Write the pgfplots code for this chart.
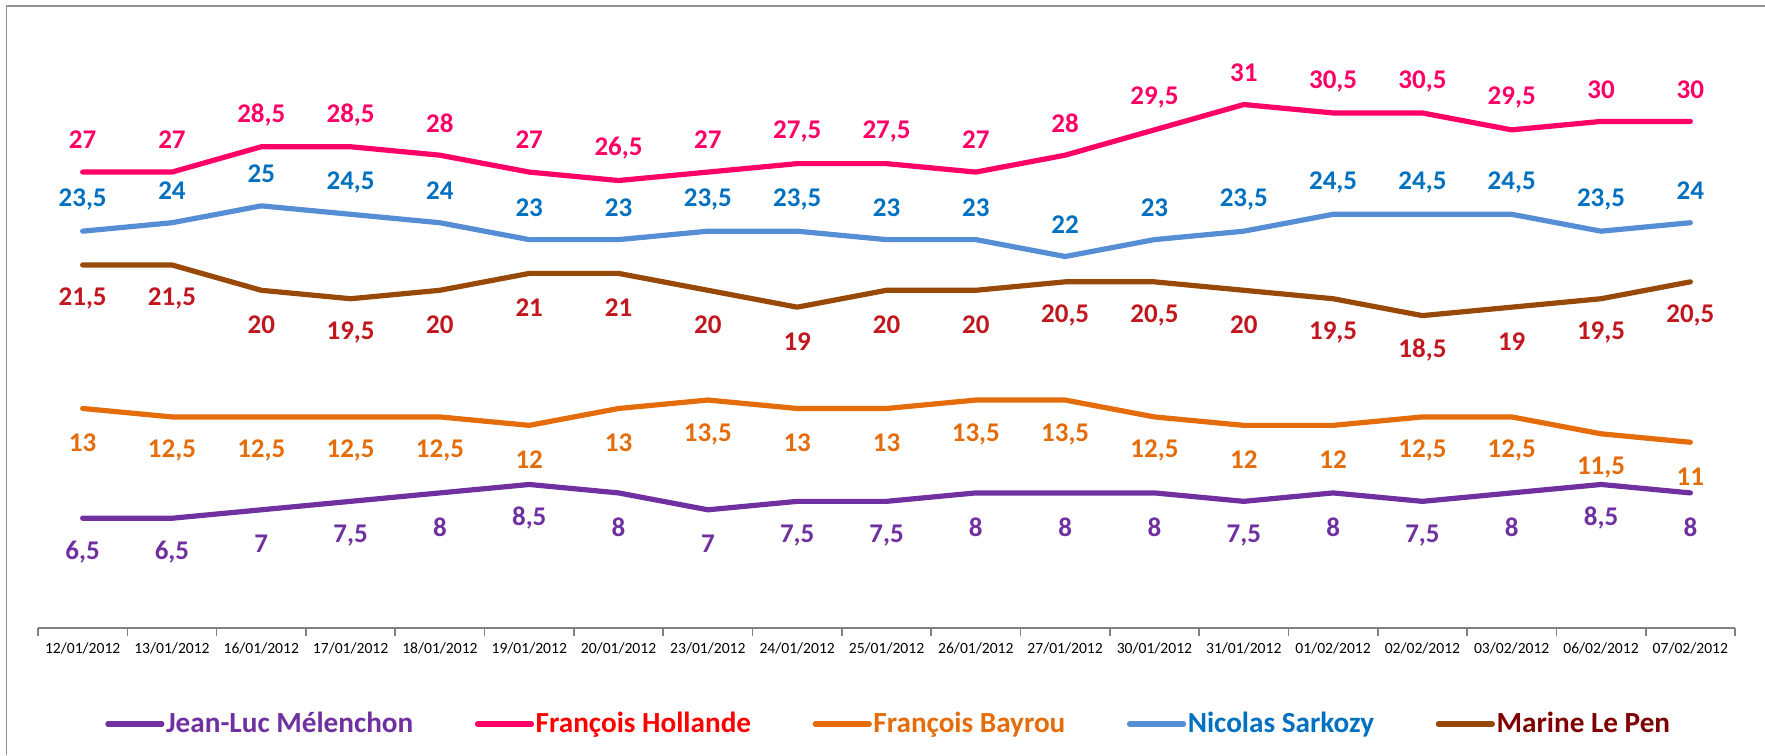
\documentclass[border=0pt]{standalone}
\usepackage{fontspec}
\setmainfont{Carlito}
\usepackage{pgfplots}
\pgfplotsset{compat=1.18}
\definecolor{cMel}{HTML}{7030A0}
\definecolor{cHol}{HTML}{FF0066}
\definecolor{cHolT}{HTML}{FF0000}
\definecolor{cBay}{HTML}{E46C0A}
\definecolor{cSarL}{HTML}{558ED5}
\definecolor{cSarT}{HTML}{0070C0}
\definecolor{cLPL}{HTML}{984807}
\definecolor{cLPT}{HTML}{C0181E}
\definecolor{cLPLeg}{HTML}{7F0000}
\begin{document}
\begin{tikzpicture}
\useasboundingbox (-19pt,-63.5pt) rectangle (863.5pt,314pt);
\draw[gray!85, line width=0.9pt] (-15.7pt,-63.5pt) -- (-15.7pt,311pt) -- (870pt,311pt);
\begin{axis}[
  at={(0,0)}, anchor=south west, scale only axis,
  width=848.5pt, height=295.5pt,
  xmin=-0.5, xmax=18.5, ymin=0, ymax=35,
  axis y line=none, axis x line*=bottom,
  x axis line style={draw=gray, line width=0.8pt, -},
  xtick={0,...,18},
  xticklabels={12/01/2012,13/01/2012,16/01/2012,17/01/2012,18/01/2012,19/01/2012,20/01/2012,23/01/2012,24/01/2012,25/01/2012,26/01/2012,27/01/2012,30/01/2012,31/01/2012,01/02/2012,02/02/2012,03/02/2012,06/02/2012,07/02/2012},
  minor xtick={-0.5,0.5,...,18.5},
  major tick length=0pt, minor tick length=4pt, tick align=outside,
  xtick pos=bottom,
  minor x tick style={draw=gray, line width=0.8pt},
  xticklabel style={font=\fontsize{7.8}{8}\selectfont, yshift=-4pt},
  /pgf/number format/assume math mode=true,
  /pgf/number format/use comma,
  clip=false,
  every axis plot/.append style={line width=2.6pt, line cap=round, line join=round, mark=none},
  nodes near coords,
  every node near coord/.append style={font=\bfseries\fontsize{13.5}{13.5}\selectfont, anchor=center},
  legend columns=5,
  legend style={at={(rel axis cs:0.5,0)}, xshift=1pt, yshift=-48pt, anchor=center, draw=none, fill=none,
    font=\bfseries\fontsize{14.6}{14.6}\selectfont,
    nodes={inner sep=0.8pt},
    /tikz/every even column/.append style={column sep=30pt},
    /tikz/every odd column/.append style={column sep=0pt},
    inner sep=0pt},
  legend image code/.code={\draw[#1, line width=2.6pt, line cap=round] (0pt,0pt) -- (27pt,0pt);},
]
\addplot[cMel, every node near coord/.append style={text=cMel, yshift=-17pt}] coordinates {
(0,6.5)(1,6.5)(2,7)(3,7.5)(4,8)(5,8.5)(6,8)(7,7)(8,7.5)(9,7.5)(10,8)(11,8)(12,8)(13,7.5)(14,8)(15,7.5)(16,8)(17,8.5)(18,8)};
\addlegendentry{\textcolor{cMel}{Jean-Luc Mélenchon}}
\addplot[cHol, every node near coord/.append style={text=cHol, yshift=16pt}] coordinates {
(0,27)(1,27)(2,28.5)(3,28.5)(4,28)(5,27)(6,26.5)(7,27)(8,27.5)(9,27.5)(10,27)(11,28)(12,29.5)(13,31)(14,30.5)(15,30.5)(16,29.5)(17,30)(18,30)};
\addlegendentry{\textcolor{cHolT}{François Hollande}}
\addplot[cBay, every node near coord/.append style={text=cBay, yshift=-17pt}] coordinates {
(0,13)(1,12.5)(2,12.5)(3,12.5)(4,12.5)(5,12)(6,13)(7,13.5)(8,13)(9,13)(10,13.5)(11,13.5)(12,12.5)(13,12)(14,12)(15,12.5)(16,12.5)(17,11.5)(18,11)};
\addlegendentry{\textcolor{cBay}{François Bayrou}}
\addplot[cSarL, every node near coord/.append style={text=cSarT, yshift=16pt}] coordinates {
(0,23.5)(1,24)(2,25)(3,24.5)(4,24)(5,23)(6,23)(7,23.5)(8,23.5)(9,23)(10,23)(11,22)(12,23)(13,23.5)(14,24.5)(15,24.5)(16,24.5)(17,23.5)(18,24)};
\addlegendentry{\textcolor{cSarT}{Nicolas Sarkozy}}
\addplot[cLPL, every node near coord/.append style={text=cLPT, yshift=-17pt}] coordinates {
(0,21.5)(1,21.5)(2,20)(3,19.5)(4,20)(5,21)(6,21)(7,20)(8,19)(9,20)(10,20)(11,20.5)(12,20.5)(13,20)(14,19.5)(15,18.5)(16,19)(17,19.5)(18,20.5)};
\addlegendentry{\textcolor{cLPLeg}{Marine Le Pen}}
\end{axis}
\end{tikzpicture}
\end{document}
